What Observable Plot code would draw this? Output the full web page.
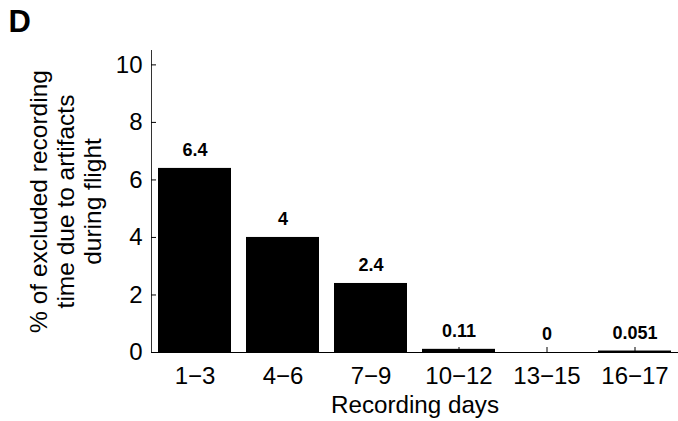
<!DOCTYPE html>
<html>
<head>
<meta charset="utf-8">
<script src="https://cdn.jsdelivr.net/npm/d3@7"></script>
<script src="https://cdn.jsdelivr.net/npm/@observablehq/plot@0.6"></script>
<style>
  html, body { margin: 0; padding: 0; background: white; }
  #chart svg { display: block; }
</style>
</head>
<body>
<div id="chart"></div>
<script>
const categories = ["1\u22123", "4\u22126", "7\u22129", "10\u221212", "13\u221215", "16\u221217"];
const values = [6.4, 4, 2.4, 0.11, 0, 0.051];
const valueLabels = ["6.4", "4", "2.4", "0.11", "0", "0.051"];
const yTicks = [0, 2, 4, 6, 8, 10];
const panelLetter = "D";
const yTitle = "% of excluded recording\ntime due to artifacts\nduring flight";
const xTitle = "Recording days";

const data = categories.map((c, i) => ({cat: c, value: values[i], label: valueLabels[i]}));

const W = 678, H = 421, mL = 151, mR = 0, mT = 50, mB = 69;
const frameW = W - mL - mR, frameH = H - mT - mB;

const chart = Plot.plot({
  width: W, height: H,
  marginLeft: mL, marginRight: mR, marginTop: mT, marginBottom: mB,
  style: {fontFamily: "'Liberation Sans', Arial, sans-serif", fontSize: "24px", color: "black", background: "white"},
  x: {domain: categories, paddingInner: 0.175, paddingOuter: 0.07, label: null},
  y: {domain: [0, 10.5], label: null},
  marks: [
    Plot.barY(data, {x: "cat", y: "value", fill: "black"}),
    Plot.ruleY([0], {stroke: "black", strokeWidth: 1.2}),
    Plot.frame({anchor: "left", stroke: "#333"}),
    Plot.tickY(yTicks, {y: d => d, insetRight: frameW - 5, stroke: "black"}),
    Plot.tickX(categories, {x: d => d, insetTop: frameH - 5, stroke: "black"}),
    Plot.axisY({ticks: yTicks, tickSize: 0, tickPadding: 9, label: null, fontSize: 24}),
    Plot.axisX({tickSize: 0, tickPadding: 14, label: null, fontSize: 24}),
    Plot.text([yTitle], {frameAnchor: "left", rotate: -90, dx: -86, textAnchor: "middle", lineAnchor: "middle", lineHeight: 1.1, fontSize: 24.5}),
    Plot.text([xTitle], {frameAnchor: "bottom", dy: 53, lineAnchor: "middle", fontSize: 24.2}),
    Plot.text(data, {x: "cat", y: "value", text: "label", dy: -18, lineAnchor: "middle", fontWeight: "bold", fontSize: 18}),
    Plot.text([panelLetter], {frameAnchor: "top-left", dx: -143, dy: -28, textAnchor: "start", lineAnchor: "middle", fontWeight: "bold", fontSize: 31})
  ]
});
document.getElementById("chart").appendChild(chart);
</script>
</body>
</html>
